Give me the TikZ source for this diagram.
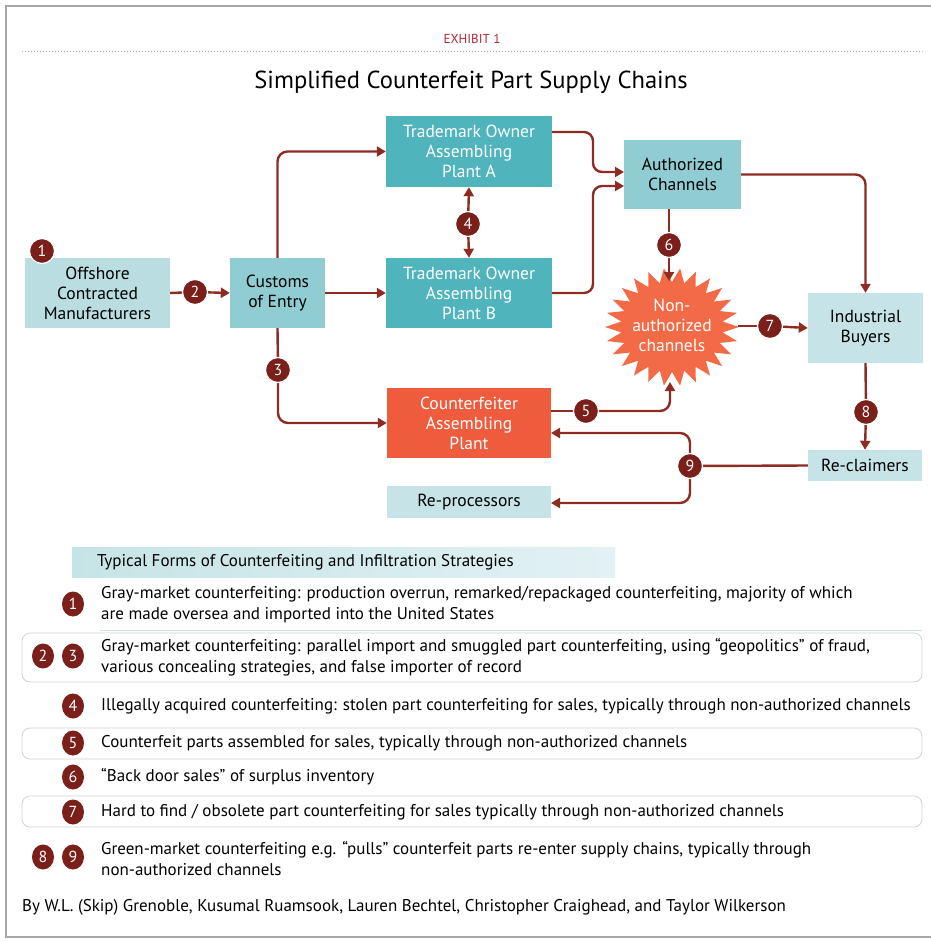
\documentclass[tikz,border=0pt]{standalone}
\usepackage{fontspec}
\setmainfont{PT Sans}
\usetikzlibrary{calc,arrows.meta,shapes.geometric}
\definecolor{dred}{HTML}{7B1F1A}
\definecolor{arrowred}{HTML}{8E2B23}
\definecolor{tealA}{HTML}{4FB4BC}
\definecolor{tealM}{HTML}{8FCDD3}
\definecolor{tealL}{HTML}{BADDE1}
\definecolor{tealXL}{HTML}{C6E4E7}
\definecolor{cfred}{HTML}{EE5B3D}
\definecolor{starc}{HTML}{F36A46}
\definecolor{exred}{HTML}{B3253A}
\begin{document}
\begin{tikzpicture}[x=1pt,y=-1pt,
  box/.style={rectangle, inner sep=0pt, align=center, font=\fontsize{17.5}{20}\selectfont},
  badge/.style={circle, fill=dred, draw=white, line width=1.2pt, minimum size=25pt, inner sep=0pt, text=white, font=\fontsize{16}{16}\selectfont},
  lbadge/.style={ellipse, fill=dred, minimum width=22pt, minimum height=25pt, inner sep=0pt, text=white, font=\fontsize{16}{16}\selectfont},
  conn/.style={draw=arrowred, line width=2.4pt},
  arr/.style={conn, -{Triangle[length=9pt,width=10pt]}},
  item/.style={anchor=west, align=left, inner sep=0pt, font=\fontsize{17}{21}\selectfont},
  rowbox/.style={draw=gray!35, fill=white, rounded corners=8pt, line width=0.8pt},
]
\useasboundingbox (0,0) rectangle (931,942);
% frame
\draw[gray!70, line width=2pt] (940,6) -- (6,6) -- (6,937) -- (940,937);
% header
\node[text=exred, font=\fontsize{13}{13}\selectfont] (exh) at (472,39) {EXHIBIT 1};
\draw[gray!60, line width=1pt, dotted] (22,52) -- (925,52);
\node[font=\fontsize{24.6}{25}\selectfont] (title) at (471,82) {Simplified Counterfeit Part Supply Chains};

% boxes
\node[box, fill=tealL, minimum width=145pt, minimum height=70pt] (off) at (97.5,293) {Offshore\\Contracted\\Manufacturers};
\node[box, fill=tealM, minimum width=95pt, minimum height=70pt] (cust) at (277.5,293) {Customs\\of Entry};
\node[box, fill=tealA, text=white, minimum width=166pt, minimum height=71pt] (A) at (469,151.5) {Trademark Owner\\Assembling\\Plant A};
\node[box, fill=tealA, text=white, minimum width=166pt, minimum height=70pt] (B) at (469,293) {Trademark Owner\\Assembling\\Plant B};
\node[box, fill=tealM, minimum width=117pt, minimum height=69pt] (auth) at (682.5,174.5) {Authorized\\Channels};
\node[box, fill=tealXL, minimum width=115pt, minimum height=70pt] (ind) at (865.5,328) {Industrial\\Buyers};
\node[box, fill=tealXL, minimum width=114pt, minimum height=31pt] (recl) at (865,465.5) {Re-claimers};
\node[box, fill=cfred, text=white, minimum width=164pt, minimum height=70pt] (cf) at (469,423) {Counterfeiter\\Assembling\\Plant};
\node[box, fill=tealXL, minimum width=164pt, minimum height=32pt] (rep) at (469,502) {Re-processors};

% starburst
\fill[starc] plot[samples at={0,...,51}] ({672+(67-16*mod(\x,2))*cos(\x*6.923)},{327+(59-14*mod(\x,2))*sin(\x*6.923)}) -- cycle;
\node[box, text=white, minimum size=100pt] (star) at (672,325) {Non-\\authorized\\channels};

% connectors
\coordinate (aout) at (552,132);
\coordinate (ain) at (624,172);
\coordinate (bout) at (552,293);
\coordinate (bin) at (624,186);
\coordinate (startop) at (669,281);
\coordinate (starbot) at (670,382);
\coordinate (starright) at (738,326);
\coordinate (cfin) at (551,433);
\coordinate (repin) at (551,503);
\coordinate (b1) at (42,251);
\coordinate (b2) at (195,292);
\coordinate (b3) at (278,370);
\coordinate (b4) at (468,224);
\coordinate (b5) at (586,411);
\coordinate (b6) at (669,245);
\coordinate (b7) at (770,326);
\coordinate (b8) at (866,412);
\coordinate (b9) at (690,466);
\draw[conn] (off.east) -- (b2);
\draw[arr] (b2) -- (cust.west);
\draw[arr, rounded corners=10pt] (cust.north) |- (A.west);
\draw[arr] (cust.east) -- (B.west);
\draw[conn] (cust.south) -- (b3);
\draw[arr, rounded corners=10pt] (b3) |- (cf.west);
\draw[arr] (b4) -- (A.south);
\draw[arr] (b4) -- (B.north);
\draw[arr, rounded corners=9pt] (aout) -| (593,172) -- (ain);
\draw[arr, rounded corners=9pt] (bout) -| (593,186) -- (bin);
\draw[arr, rounded corners=10pt] (auth.east) -| (ind.north);
\draw[conn] (b6 |- auth.south) -- (b6);
\draw[arr] (b6) -- (startop);
\draw[conn] (starright) -- (b7);
\draw[arr] (b7) -- (ind.west);
\draw[conn] (cf.east |- b5) -- (b5);
\draw[arr, rounded corners=10pt] (b5) -| (starbot);
\draw[conn] (ind.south) -- (b8);
\draw[arr] (b8) -- (recl.north);
\draw[conn] (recl.west) -- (b9);
\draw[arr, rounded corners=10pt] (b9) |- (cfin);
\draw[arr, rounded corners=10pt] (b9) |- (repin);
% badges on top
\foreach \n/\t in {b1/1, b2/2, b3/3, b4/4, b5/5, b6/6, b7/7, b8/8, b9/9}
  \node[badge] (n\n) at (\n) {\t};

% legend
\shade[left color=tealXL, right color=tealXL!50] (72,547) rectangle (615,577);
\node[anchor=west, inner sep=0pt, font=\fontsize{17}{17}\selectfont] (lh) at (97,562) {Typical Forms of Counterfeiting and Infiltration Strategies};

\draw[tealXL, line width=1pt] (100,630) -- (922,630);
\draw[rowbox] (22,633) rectangle (922,682);
\draw[rowbox] (22,728) rectangle (922,759);
\draw[rowbox] (22,796) rectangle (922,827);

\node[lbadge] (l1) at (73,604) {1};
\node[item] (t1) at (101,605) {Gray-market counterfeiting: production overrun, remarked/repackaged counterfeiting, majority of which\\are made oversea and imported into the United States};
\node[lbadge] (l2) at (43,656) {2};
\node[lbadge] (l3) at (73,656) {3};
\node[item] (t23) at (101,657) {Gray-market counterfeiting: parallel import and smuggled part counterfeiting, using “geopolitics” of fraud,\\various concealing strategies, and false importer of record};
\node[lbadge] (l4) at (73,706) {4};
\node[item] (t4) at (101,706) {Illegally acquired counterfeiting: stolen part counterfeiting for sales, typically through non-authorized channels};
\node[lbadge] (l5) at (73,743) {5};
\node[item] (t5) at (101,743) {Counterfeit parts assembled for sales, typically through non-authorized channels};
\node[lbadge] (l6) at (73,777) {6};
\node[item] (t6) at (101,777) {“Back door sales” of surplus inventory};
\node[lbadge] (l7) at (73,812) {7};
\node[item] (t7) at (101,812) {Hard to find / obsolete part counterfeiting for sales typically through non-authorized channels};
\node[lbadge] (l8) at (43,857) {8};
\node[lbadge] (l9) at (73,857) {9};
\node[item] (t89) at (101,858) {Green-market counterfeiting e.g. “pulls” counterfeit parts re-enter supply chains, typically through\\non-authorized channels};
\node[item] (cred) at (22,907) {By W.L. (Skip) Grenoble, Kusumal Ruamsook, Lauren Bechtel, Christopher Craighead, and Taylor Wilkerson};
\end{tikzpicture}
\end{document}
